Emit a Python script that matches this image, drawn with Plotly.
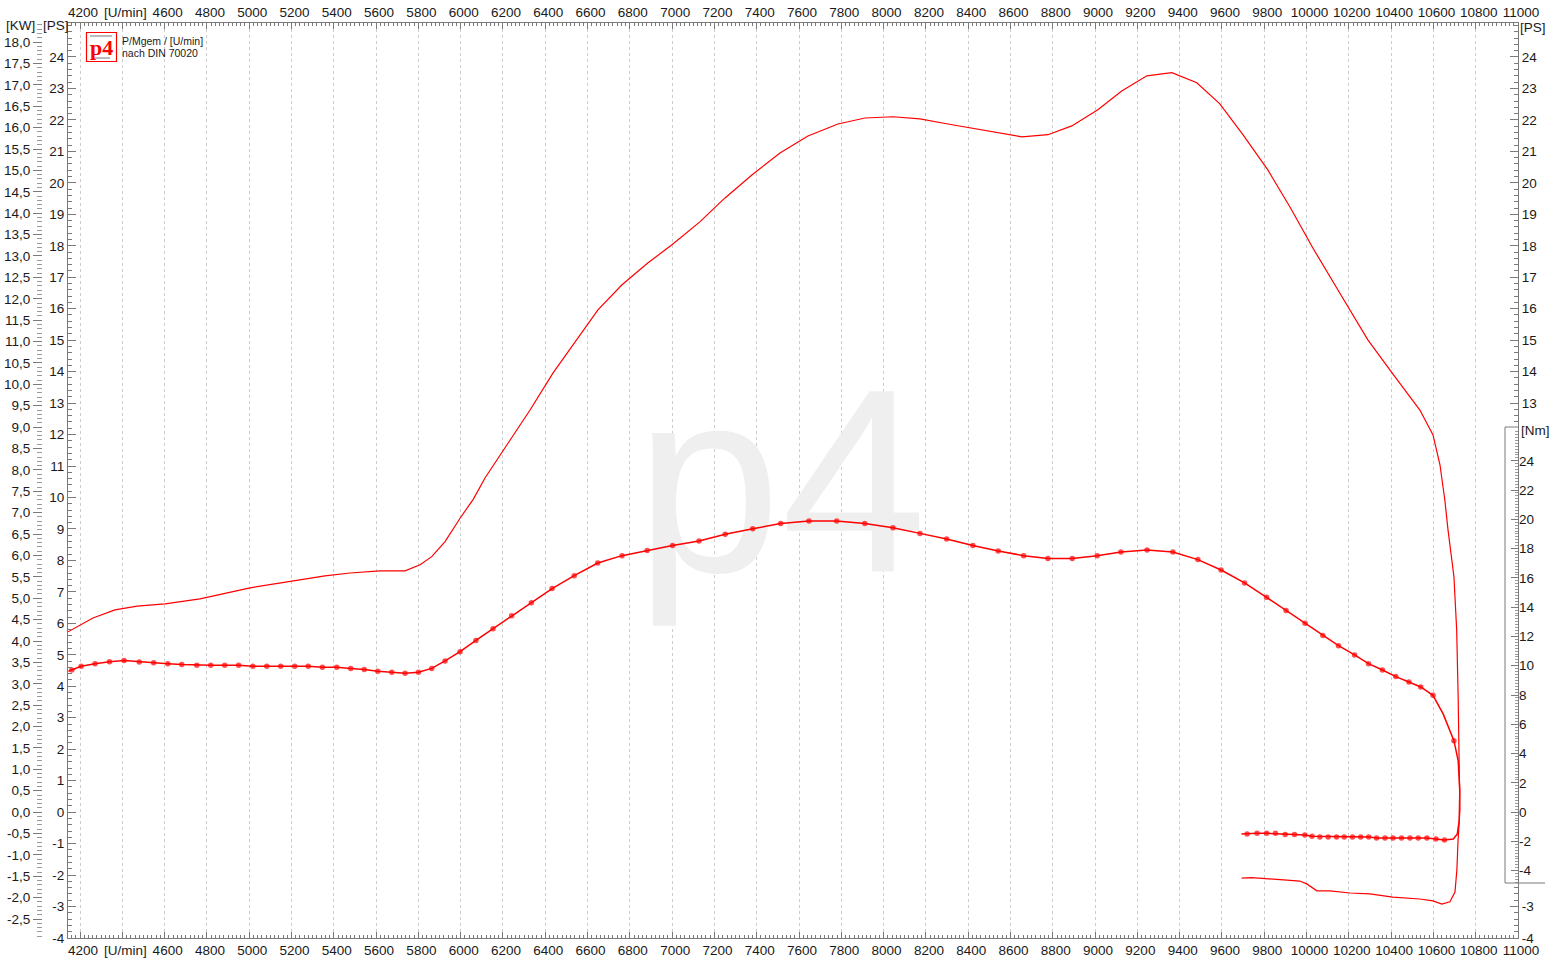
import plotly.graph_objects as go

# ---------------- data ----------------
power_rpm = [4143, 4261, 4365, 4470, 4602, 4767, 5004, 5217, 5358, 5477,
             5618, 5737, 5808, 5863, 5926, 5997, 6060, 6115, 6233, 6328,
             6437, 6540, 6649, 6763, 6886, 6999, 7131, 7250, 7377, 7510,
             7642, 7784, 7912, 8044, 8172, 8304, 8432, 8550, 8654, 8777,
             8890, 9013, 9126, 9245, 9363, 9481, 9590, 9699, 9817, 9921,
             10030, 10157, 10290, 10408, 10536, 10598, 10631, 10654, 10669, 10697,
             10710, 10717, 10722, 10725, 10716, 10711, 10702, 10678, 10640, 10598,
             10536, 10408, 10299, 10205, 10110, 10049, 10001, 9968, 9907, 9793,
             9740, 9693]
power_ps = [5.73, 6.17, 6.43, 6.55, 6.62, 6.78, 7.13, 7.35, 7.51, 7.60,
            7.67, 7.67, 7.86, 8.12, 8.60, 9.34, 9.95, 10.62, 11.83, 12.78,
            13.96, 14.95, 15.96, 16.76, 17.46, 18.03, 18.76, 19.52, 20.25, 20.95,
            21.49, 21.87, 22.06, 22.10, 22.03, 21.87, 21.72, 21.56, 21.46, 21.53,
            21.81, 22.32, 22.92, 23.40, 23.50, 23.18, 22.51, 21.53, 20.41, 19.24,
            17.93, 16.50, 15.01, 13.93, 12.78, 11.99, 11.04, 9.92, 8.97, 7.48,
            5.79, 3.66, 1.66, 0.07, -0.98, -1.83, -2.54, -2.85, -2.92, -2.82,
            -2.76, -2.70, -2.60, -2.57, -2.50, -2.50, -2.28, -2.19, -2.16, -2.12,
            -2.08, -2.10]

torque_rpm = [4145, 4161, 4205, 4271, 4339, 4408, 4480, 4548, 4615, 4681,
              4752, 4818, 4884, 4950, 5017, 5083, 5149, 5215, 5279, 5346,
              5414, 5480, 5544, 5608, 5674, 5737, 5800, 5863, 5926, 5997,
              6072, 6153, 6241, 6334, 6432, 6537, 6648, 6763, 6882, 7002,
              7127, 7251, 7381, 7513, 7647, 7778, 7911, 8044, 8172, 8298,
              8422, 8542, 8662, 8777, 8892, 9010, 9122, 9246, 9368, 9486,
              9596, 9707, 9811, 9903, 9993, 10077, 10151, 10227, 10293, 10359,
              10422, 10484, 10540, 10598, 10646, 10697, 10717, 10725, 10725, 10722,
              10713, 10694, 10652, 10612, 10569, 10528, 10489, 10449, 10409, 10371,
              10331, 10294, 10256, 10217, 10178, 10142, 10102, 10063, 10026, 9992,
              9943, 9899, 9853, 9811, 9766, 9719, 9692]
torque_nm = [9.62, 9.71, 9.96, 10.14, 10.28, 10.35, 10.26, 10.21, 10.14, 10.08,
             10.03, 10.03, 10.03, 10.03, 9.96, 9.96, 9.96, 9.96, 9.96, 9.89,
             9.89, 9.82, 9.75, 9.62, 9.55, 9.48, 9.55, 9.82, 10.33, 10.96,
             11.73, 12.53, 13.42, 14.31, 15.27, 16.15, 17.02, 17.52, 17.88, 18.22,
             18.52, 18.98, 19.36, 19.71, 19.89, 19.89, 19.71, 19.43, 19.04, 18.66,
             18.22, 17.84, 17.52, 17.32, 17.32, 17.52, 17.77, 17.91, 17.77, 17.25,
             16.54, 15.66, 14.67, 13.78, 12.90, 12.06, 11.37, 10.74, 10.14, 9.71,
             9.26, 8.89, 8.55, 7.98, 6.71, 4.88, 3.52, 1.47, 0.10, -0.58,
             -1.49, -1.83, -1.90, -1.83, -1.76, -1.76, -1.76, -1.76, -1.76, -1.76,
             -1.76, -1.69, -1.69, -1.69, -1.69, -1.69, -1.69, -1.69, -1.65, -1.56,
             -1.52, -1.52, -1.45, -1.45, -1.45, -1.49, -1.49]
# 1 = measured point drawn with a dot
torque_dot = [0, 1, 1, 1, 1, 1, 1, 1, 1, 1,
              1, 1, 1, 1, 1, 1, 1, 1, 1, 1,
              1, 1, 1, 1, 1, 1, 1, 1, 1, 1,
              1, 1, 1, 1, 1, 1, 1, 1, 1, 1,
              1, 1, 1, 1, 1, 1, 1, 1, 1, 1,
              1, 1, 1, 1, 1, 1, 1, 1, 1, 1,
              1, 1, 1, 1, 1, 1, 1, 1, 1, 1,
              1, 1, 1, 1, 0, 1, 0, 0, 0, 0,
              0, 0, 1, 1, 1, 1, 1, 1, 1, 1,
              1, 1, 1, 1, 1, 1, 1, 1, 1, 1,
              1, 1, 1, 1, 1, 1, 0]
assert len(power_rpm) == len(power_ps)
assert len(torque_rpm) == len(torque_nm) == len(torque_dot)

rpm_ticks = list(range(4200, 11001, 200))
rpm_labels = ["[U/min]" if v == 4400 else str(v) for v in rpm_ticks]
kw_ticks = [round(18.0 - 0.5 * i, 1) for i in range(42)]
kw_labels = [f"{v:.1f}".replace(".", ",") for v in kw_ticks]
ps_ticks = list(range(-4, 25))
nm_ticks = list(range(-4, 25, 2))

# ---------------- geometry (pixels of the 1562x964 page) ----------------
W, H = 1562, 964
PL, PR, PT, PB = 68, 1518, 23, 938
RPM_MIN, RPM_MAX = 4143, 11000
PX_PER_PS = 31.465
PS_MIN = -4.0
PS_MAX = PS_MIN + (PB - PT) / PX_PER_PS
PS_PER_KW = 1.35962
PX_PER_NM = 14.64
ZERO_PX = PB - (0 - PS_MIN) * PX_PER_PS
NM_MIN = -(PB - ZERO_PX) / PX_PER_NM
NM_MAX = NM_MIN + (PB - PT) / PX_PER_NM
BOX_L, BOX_T, BOX_B = 1505, 427, 883

def fx(px):
    return px / W

def fy(py):
    return (H - py) / H

def px_to_rpm(px):
    return RPM_MIN + (px - PL) * (RPM_MAX - RPM_MIN) / (PR - PL)

def py_to_ps(py):
    return PS_MIN + (PB - py) / PX_PER_PS

AX = "#7a7a7a"
TXT = "#1a1a1a"
RED = "#ff0000"
FONT = "Liberation Sans, Arial, Helvetica, sans-serif"

ps_box_top = py_to_ps(BOX_T)
ps_box_bot = py_to_ps(BOX_B)
ps_right_ticks = [v for v in ps_ticks if v > ps_box_top or v < ps_box_bot]
ps_minor = [round(-4 + 0.2 * i, 1) for i in range(int((PS_MAX + 4) / 0.2) + 1)]
ps_minor_right = [v for v in ps_minor if v > ps_box_top or v < ps_box_bot]
kw_minor = [round(-2.9 + 0.1 * i, 1) for i in range(214)]
nm_minor = [round(-4.8 + 0.2 * i, 1) for i in range(155)]
rpm_minor = list(range(4160, 11000, 20))

fig = go.Figure()

# watermark (first, so everything is drawn over it)
fig.add_trace(go.Scatter(
    x=[px_to_rpm(781)], y=[py_to_ps(506)], mode="text", text=["p4"],
    textposition="middle center",
    textfont=dict(family=FONT, size=262, color="#efefef"),
    hoverinfo="skip", showlegend=False, cliponaxis=False))

# power curve (PS)
fig.add_trace(go.Scatter(
    x=power_rpm, y=power_ps, mode="lines",
    line=dict(color=RED, width=1.2), xaxis="x", yaxis="y",
    hoverinfo="skip", showlegend=False))

# dummy traces to materialise the extra axes
for xa, ya in [("x2", "y"), ("x", "y2"), ("x", "y3")]:
    fig.add_trace(go.Scatter(x=[None], y=[None], xaxis=xa, yaxis=ya,
                             mode="lines", showlegend=False, hoverinfo="skip"))

# torque curve (Nm)
fig.add_trace(go.Scatter(
    x=torque_rpm, y=torque_nm, mode="lines+markers",
    line=dict(color=RED, width=1.5),
    marker=dict(color=RED, size=[5.5 if d else 0 for d in torque_dot],
                line=dict(width=0)),
    xaxis="x", yaxis="y4", hoverinfo="skip", showlegend=False))

xdom = [fx(PL), fx(PR)]
ydom = [fy(PB), fy(PT)]

x_common = dict(
    range=[RPM_MIN, RPM_MAX], tickmode="array", tickvals=rpm_ticks,
    ticktext=rpm_labels, ticks="inside", ticklen=6, tickcolor=AX, tickwidth=1,
    showline=True, linecolor=AX, linewidth=1, zeroline=False,
    tickfont=dict(family=FONT, size=13.5, color=TXT), ticklabelshift=3,
    minor=dict(tickmode="array", tickvals=rpm_minor, ticks="inside",
               ticklen=3, tickcolor=AX, showgrid=False),
    fixedrange=True, automargin=False,
)

y_common = dict(fixedrange=True, automargin=False, showgrid=False, zeroline=False,
                tickfont=dict(family=FONT, size=13.5, color=TXT), tickcolor=AX)

fig.update_layout(
    width=W, height=H,
    margin=dict(l=0, r=0, t=0, b=0, pad=0, autoexpand=False),
    paper_bgcolor="white", plot_bgcolor="white", showlegend=False,
    font=dict(family=FONT, size=13.5, color=TXT),
    xaxis=dict(domain=xdom, anchor="y", side="bottom", showgrid=True,
               gridcolor="#cccccc", griddash="dot", gridwidth=1, **x_common),
    xaxis2=dict(overlaying="x", anchor="y", side="top", showgrid=False,
                **x_common),
    yaxis=dict(domain=ydom, range=[PS_MIN, PS_MAX], anchor="x", side="left",
               tickmode="array", tickvals=ps_ticks, ticktext=[str(v) for v in ps_ticks],
               ticks="inside", ticklen=8, showline=True,
               linecolor=AX, linewidth=1,
               minor=dict(tickmode="array", tickvals=ps_minor, ticks="inside",
                          ticklen=4, tickcolor=AX, showgrid=False),
               **y_common),
    yaxis2=dict(overlaying="y", range=[PS_MIN, PS_MAX], anchor="x", side="right",
                tickmode="array", tickvals=ps_right_ticks,
                ticktext=[str(v) for v in ps_right_ticks],
                ticks="inside", ticklen=8, showline=True,
                linecolor=AX, linewidth=1,
                minor=dict(tickmode="array", tickvals=ps_minor_right, ticks="inside",
                           ticklen=4, tickcolor=AX, showgrid=False),
                **y_common),
    yaxis3=dict(overlaying="y", range=[PS_MIN / PS_PER_KW, PS_MAX / PS_PER_KW],
                anchor="free", position=fx(42), side="left",
                tickmode="array", tickvals=kw_ticks, ticktext=kw_labels,
                ticks="outside", ticklen=9, showline=False,
                minor=dict(tickmode="array", tickvals=kw_minor, ticks="outside",
                           ticklen=5, tickcolor="#9a9a9a", showgrid=False),
                **y_common),
    yaxis4=dict(overlaying="y", range=[NM_MIN, NM_MAX], anchor="free",
                position=fx(PR), side="right",
                tickmode="array", tickvals=nm_ticks,
                ticktext=[str(v) for v in nm_ticks],
                ticks="inside", ticklen=7, showline=False,
                minor=dict(tickmode="array", tickvals=nm_minor, ticks="inside",
                           ticklen=3, tickcolor="#9a9a9a", showgrid=False),
                **y_common),
)

def pline(x0, y0, x1, y1, color=AX, width=1):
    fig.add_shape(type="line", xref="paper", yref="paper",
                  x0=fx(x0), y0=fy(y0), x1=fx(x1), y1=fy(y1),
                  line=dict(color=color, width=width))

# Nm axis frame
pline(BOX_L, BOX_T, BOX_L, BOX_B)
pline(BOX_L, BOX_T, PR, BOX_T)
pline(BOX_L, BOX_B, 1545, BOX_B)

# logo box
fig.add_shape(type="rect", xref="paper", yref="paper",
              x0=fx(86.5), y0=fy(32.5), x1=fx(116.5), y1=fy(61.5),
              line=dict(color=RED, width=1.2), fillcolor="white")
pline(90, 36, 112, 36, color="#555555", width=0.8)
pline(93, 58, 110, 58, color="#555555", width=0.8)

def label(px, py, text, size=13.5, xanchor="center", color=TXT, family=FONT):
    fig.add_annotation(xref="paper", yref="paper", x=fx(px), y=fy(py),
                       text=text, showarrow=False, xanchor=xanchor,
                       yanchor="middle",
                       font=dict(family=family, size=size, color=color))

label(20, 25, "[KW]")
label(56, 25, "[PS]")
label(1533, 27, "[PS]")
label(1535, 431, "[Nm]")
label(101, 47, "<b>p4</b>", size=22, color=RED,
      family="Liberation Serif, Times New Roman, serif")
label(120, 41, "P/Mgem / [U/min]", size=10.5, xanchor="left")
label(120, 53, "nach DIN 70020", size=10.5, xanchor="left")

fig.write_html(
    "out.html",
    config={"displayModeBar": False, "staticPlot": True},
    post_script="document.body.style.margin='0px';"
                "document.body.style.overflow='hidden';",
)
